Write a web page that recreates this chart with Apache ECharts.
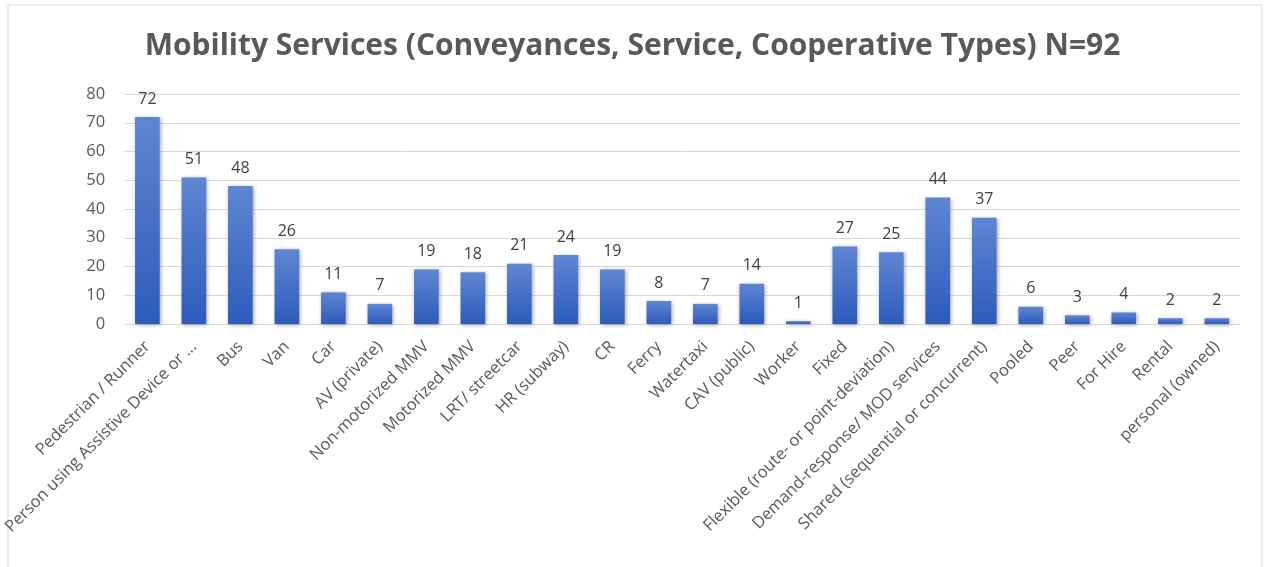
<!DOCTYPE html>
<html><head><meta charset="utf-8">
<script src="https://cdn.jsdelivr.net/npm/echarts@6/dist/echarts.min.js"></script>
<style>html,body{margin:0;padding:0;background:#fff}#c{width:1265px;height:567px}</style>
</head><body><div id="c"></div>
<script>
const categories = ["Pedestrian / Runner","Person using Assistive Device or ...","Bus","Van","Car","AV (private)","Non-motorized MMV","Motorized MMV","LRT/ streetcar","HR (subway)","CR","Ferry","Watertaxi","CAV (public)","Worker","Fixed","Flexible (route- or point-deviation)","Demand-response/ MOD services","Shared (sequential or concurrent)","Pooled","Peer","For Hire","Rental","personal (owned)"];
const values = [72,51,48,26,11,7,19,18,21,24,19,8,7,14,1,27,25,44,37,6,3,4,2,2];
const yTicks = {min:0, max:80, interval:10};
const title = "Mobility Services (Conveyances, Service, Cooperative Types) N=92";

const chart = echarts.init(document.getElementById('c'));
chart.setOption({
  animation:false,
  textStyle:{fontFamily:"Open Sans"},
  title:{text:title,left:'center',top:26,textStyle:{fontFamily:"Open Sans",fontWeight:'bold',fontSize:30,color:'#595959'}},
  graphic:[{type:'rect',shape:{x:8,y:5,width:1254,height:620},style:{fill:'none',stroke:'#d9d9d9',lineWidth:1},silent:true}],
  grid:{left:123,right:25,top:94,bottom:243,containLabel:false},
  xAxis:{type:'category',data:categories,
    axisLine:{lineStyle:{color:'#d9d9d9',width:1}},axisTick:{show:false},
    axisLabel:{rotate:45,interval:0,fontSize:16.5,color:'#595959',margin:20,fontFamily:"Open Sans"}},
  yAxis:{type:'value',min:yTicks.min,max:yTicks.max,interval:yTicks.interval,
    axisLine:{show:false},axisTick:{show:false},
    splitLine:{lineStyle:{color:'#d9d9d9',width:1}},
    axisLabel:{fontSize:16.5,color:'#595959',margin:19,fontFamily:"Open Sans"}},
  series:[{type:'bar',data:values,barWidth:'53%',
    itemStyle:{color:new echarts.graphic.LinearGradient(0,0,0,1,[{offset:0,color:'#5f86d2'},{offset:1,color:'#2c5bbb'}]),
      shadowColor:'rgba(0,0,0,0.35)',shadowBlur:4,shadowOffsetX:1,shadowOffsetY:1},
    label:{show:true,position:'top',fontSize:16,color:'#404040',distance:10,fontFamily:"Open Sans"}}]
});
</script></body></html>
